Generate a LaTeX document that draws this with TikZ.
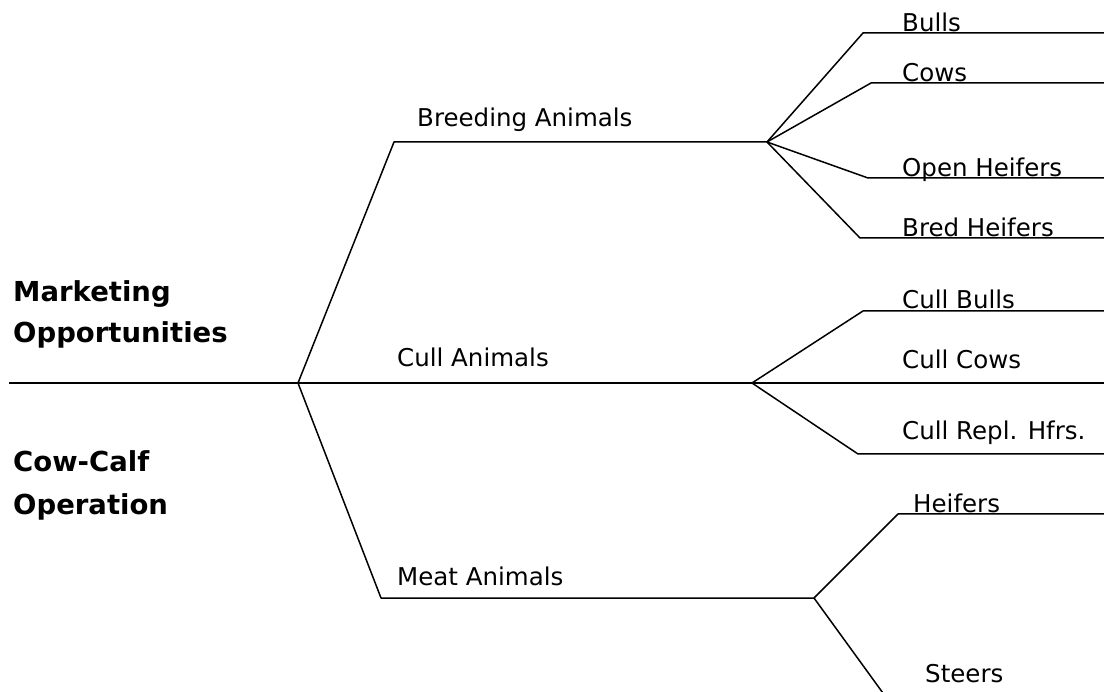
\documentclass[tikz,border=0pt]{standalone}
\usepackage{fontspec}
\setmainfont{DejaVu Sans}
\begin{document}
\begin{tikzpicture}[x=1pt,y=-1pt,
  wire/.style={line width=1.5pt, line join=round},
  lbl/.style={anchor=base west, inner sep=0pt, font=\fontsize{24.5}{29}\selectfont},
  head/.style={anchor=base west, inner sep=0pt, font=\fontsize{27.5}{33}\selectfont\bfseries}]
\useasboundingbox (0,0) rectangle (1104,692);
\clip (0,0) rectangle (1104,692);
% junctions and corners
\coordinate (root) at (9,383);
\coordinate (j0) at (298,383);
\coordinate (cB) at (394,142);
\coordinate (jB) at (767,142);
\coordinate (jC) at (752,383);
\coordinate (cM) at (381,598);
\coordinate (jM) at (814,598);
% leaves
\coordinate (cBulls) at (863,33);   \coordinate (eBulls) at (1104,33);
\coordinate (cCows) at (871,83);    \coordinate (eCows) at (1104,83);
\coordinate (cOpen) at (868,178);   \coordinate (eOpen) at (1104,178);
\coordinate (cBred) at (860,238);   \coordinate (eBred) at (1104,238);
\coordinate (cCB) at (863,311);     \coordinate (eCB) at (1104,311);
\coordinate (eCC) at (1104,383);
\coordinate (cCR) at (858,454);     \coordinate (eCR) at (1104,454);
\coordinate (cHf) at (898,514);     \coordinate (eHf) at (1104,514);
\coordinate (eSt) at (888,700);
% connectors
\draw[wire] (root) -- (j0);
\draw[wire] (j0) -- (cB) -- (jB);
\draw[wire] (j0) -- (jC);
\draw[wire] (j0) -- (cM) -- (jM);
\draw[wire] (jB) -- (cBulls) -- (eBulls);
\draw[wire] (jB) -- (cCows) -- (eCows);
\draw[wire] (jB) -- (cOpen) -- (eOpen);
\draw[wire] (jB) -- (cBred) -- (eBred);
\draw[wire] (jC) -- (cCB) -- (eCB);
\draw[wire] (jC) -- (eCC);
\draw[wire] (jC) -- (cCR) -- (eCR);
\draw[wire] (jM) -- (cHf) -- (eHf);
\draw[wire] (jM) -- (eSt);
% headings
\node[head] (h1) at (13,302) {Marketing};
\node[head] (h2) at (13,343) {Opportunities};
\node[head] (h3) at (13,472) {Cow-Calf};
\node[head] (h4) at (13,515) {Operation};
% labels
\node[lbl] (tBA) at (417,127) {Breeding Animals};
\node[lbl] (tCA) at (397,367) {Cull Animals};
\node[lbl] (tMA) at (397,585) {Meat Animals};
\node[lbl] (tBulls) at (902,32) {Bulls};
\node[lbl] (tCows) at (902,82) {Cows};
\node[lbl] (tOpen) at (902,177) {Open Heifers};
\node[lbl] (tBred) at (902,237) {Bred Heifers};
\node[lbl] (tCB) at (902,309) {Cull Bulls};
\node[lbl] (tCC) at (902,369) {Cull Cows};
\node[lbl] (tCR) at (902,440) {Cull Repl. Hfrs.};
\node[lbl] (tHf) at (913,513) {Heifers};
\node[lbl] (tSt) at (925,682) {Steers};
\end{tikzpicture}
\end{document}
